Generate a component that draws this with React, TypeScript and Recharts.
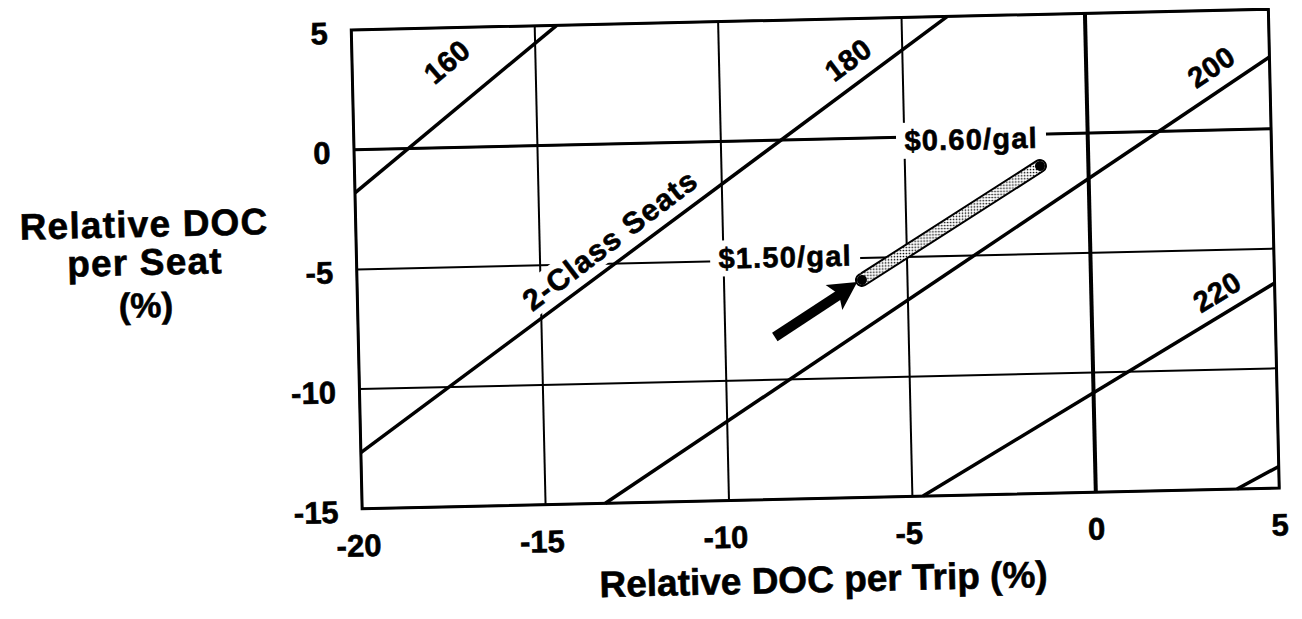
import {
  LineChart,
  Line,
  XAxis,
  YAxis,
  CartesianGrid,
  ReferenceLine,
  ReferenceDot,
  ReferenceArea,
} from "recharts";

const FONT = '"Liberation Sans", Arial, Helvetica, sans-serif';

const xTicks = [-20, -15, -10, -5, 0, 5];
const yTicks = [-15, -10, -5, 0, 5];

// constant seat-count lines (end points)
const seats160 = [
  { x: -20, y: -1.8 },
  { x: -14.4, y: 5 },
];
const seats180 = [
  { x: -20, y: -12.65 },
  { x: -3.75, y: 5 },
];
const seats200 = [
  { x: -13.37, y: -15 },
  { x: 5, y: 3.0 },
];
const seats220 = [
  { x: -4.71, y: -15 },
  { x: 5, y: -6.44 },
];
const seats240 = [
  { x: 3.85, y: -15 },
  { x: 5, y: -14.1 },
];

// fuel price sweep, $1.50/gal end first
const fuelPath = [
  { x: -6.24, y: -5.92 },
  { x: -1.32, y: -1.33 },
];

const arrowShaft = [
  { x: -8.65, y: -8.22 },
  { x: -6.8, y: -6.45 },
];
const arrowTip = { x: -6.37, y: -6.0 };

const seatLabels = [
  { text: "160", x: -17.41, y: 3.58, angle: 39 },
  { text: "180", x: -6.48, y: 3.28, angle: 35.5 },
  { text: "200", x: 3.41, y: 2.64, angle: 32.6 },
  { text: "220", x: 3.43, y: -6.76, angle: 30 },
];
const classLabel = { text: "2-Class Seats", x: -13.08, y: -4.01, angle: 36 };
const priceLabels = [
  { text: "$0.60/gal", x: -3.18, y: -0.15 },
  { text: "$1.50/gal", x: -8.32, y: -4.89 },
];

const W = 1286;
const H = 600;
const margin = { top: 11.5, right: 20.1, bottom: 49.5, left: 288.6 };

// the scan is a bit heavier than plain bold
const ink = { fill: "#000", stroke: "#000", strokeWidth: 0.6 };

const XTick = (props: any) => {
  const { x, y, payload } = props;
  const v = payload.value;
  return (
    <text
      x={x + (v < 0 ? -4 : 0)}
      y={y + 47.5}
      textAnchor="middle"
      fontFamily={FONT}
      fontWeight="bold"
      fontSize={31}
      {...ink}
    >
      {v}
    </text>
  );
};

const YTick = (props: any) => {
  const { x, y, payload } = props;
  return (
    <text
      x={x - 23.6}
      y={y + 13.5}
      textAnchor="end"
      fontFamily={FONT}
      fontWeight="bold"
      fontSize={31}
      {...ink}
    >
      {payload.value}
    </text>
  );
};

const YTitle = (props: any) => {
  const { x, y } = props.viewBox;
  const cx = x - 151.6;
  const common = {
    x: cx,
    textAnchor: "middle" as const,
    fontFamily: FONT,
    fontWeight: "bold",
    fontSize: 37,
    letterSpacing: 1.2,
    ...ink,
  };
  return (
    <g>
      <text {...common} y={y + 202.2}>
        Relative DOC
      </text>
      <text {...common} y={y + 240.3}>
        per Seat
      </text>
      <text {...common} y={y + 282.8} fontSize={35} letterSpacing={0}>
        (%)
      </text>
    </g>
  );
};

const XTitle = (props: any) => {
  const { x, y, width } = props.viewBox;
  return (
    <text
      x={x + width / 2 + 1}
      y={y + 93.7}
      textAnchor="middle"
      fontFamily={FONT}
      fontWeight="bold"
      fontSize={37}
      {...ink}
    >
      Relative DOC per Trip (%)
    </text>
  );
};

const SlantText = (props: any) => {
  const { cx, cy, text, angle, size, spacing, bg } = props;
  return (
    <g transform={`rotate(${-angle} ${cx} ${cy})`}>
      {bg && (
        <rect x={cx - 115} y={cy - 17} width={230} height={34} fill="#fff" />
      )}
      <text
        x={cx}
        y={cy}
        textAnchor="middle"
        dominantBaseline="central"
        fontFamily={FONT}
        fontWeight="bold"
        fontSize={size}
        letterSpacing={spacing}
        {...ink}
      >
        {text}
      </text>
    </g>
  );
};

const PriceLabel = (props: any) => {
  const { cx, cy, text } = props;
  return (
    <g>
      <rect x={cx - 75} y={cy - 18} width={150} height={36} fill="#fff" />
      <text
        x={cx}
        y={cy}
        textAnchor="middle"
        dominantBaseline="central"
        fontFamily={FONT}
        fontWeight="bold"
        fontSize={29}
        letterSpacing={1.2}
        {...ink}
      >
        {text}
      </text>
    </g>
  );
};

const ArrowHead = (props: any) => {
  const { cx, cy } = props;
  return (
    <polygon
      points="0,0 -28,-15 -22,0 -28,15"
      fill="#000"
      transform={`translate(${cx} ${cy}) rotate(-32.5)`}
    />
  );
};

const seatSeries = [seats160, seats180, seats200, seats220, seats240];

export default function App() {
  return (
    <div style={{ width: W, height: 603, overflow: "hidden" }}>
      <div
        style={{
          width: W,
          height: H,
          transform: "rotate(-1.3deg)",
          transformOrigin: "807px 251px",
        }}
      >
        <LineChart width={W} height={H} margin={margin}>
          <defs>
            <pattern
              id="dots"
              width="3"
              height="3"
              patternUnits="userSpaceOnUse"
            >
              <rect width="3" height="3" fill="#fff" />
              <circle cx="1.5" cy="1.5" r="0.85" fill="#000" />
            </pattern>
          </defs>
          <CartesianGrid stroke="#000" strokeWidth={2} />
          <XAxis
            type="number"
            dataKey="x"
            domain={[-20, 5]}
            ticks={xTicks}
            interval={0}
            axisLine={false}
            tickLine={false}
            tickSize={0}
            tickMargin={0}
            height={60}
            tick={<XTick />}
            label={(p: any) => <XTitle {...p} />}
          />
          <YAxis
            type="number"
            domain={[-15, 5]}
            ticks={yTicks}
            interval={0}
            axisLine={false}
            tickLine={false}
            tickSize={0}
            tickMargin={0}
            width={60}
            tick={<YTick />}
            label={(p: any) => <YTitle {...p} />}
          />
          <ReferenceLine x={0} stroke="#000" strokeWidth={4} />
          <ReferenceLine y={0} stroke="#000" strokeWidth={3} />
          <ReferenceArea
            x1={-20}
            x2={5}
            y1={-15}
            y2={5}
            fill="none"
            fillOpacity={0}
            stroke="#000"
            strokeWidth={3}
          />
          {priceLabels.map((l) => (
            <ReferenceDot
              key={l.text}
              x={l.x}
              y={l.y}
              r={0}
              shape={(p: any) => <PriceLabel {...p} text={l.text} />}
            />
          ))}
          <ReferenceDot
            x={classLabel.x}
            y={classLabel.y}
            r={0}
            shape={(p: any) => (
              <SlantText
                {...p}
                text={classLabel.text}
                angle={classLabel.angle}
                size={30}
                spacing={1.2}
                bg
              />
            )}
          />
          {seatLabels.map((l) => (
            <ReferenceDot
              key={l.text}
              x={l.x}
              y={l.y}
              r={0}
              shape={(p: any) => (
                <SlantText
                  {...p}
                  text={l.text}
                  angle={l.angle}
                  size={29}
                  spacing={0.5}
                />
              )}
            />
          ))}
          {seatSeries.map((d, i) => (
            <Line
              key={i}
              data={d}
              dataKey="y"
              type="linear"
              stroke="#000"
              strokeWidth={3.5}
              dot={false}
              activeDot={false}
              isAnimationActive={false}
            />
          ))}
          <Line
            data={fuelPath}
            dataKey="y"
            type="linear"
            stroke="#000"
            strokeWidth={14}
            strokeLinecap="round"
            dot={false}
            activeDot={false}
            isAnimationActive={false}
          />
          <Line
            data={fuelPath}
            dataKey="y"
            type="linear"
            stroke="url(#dots)"
            strokeWidth={10}
            strokeLinecap="round"
            dot={{ r: 5, fill: "#000", stroke: "none" }}
            activeDot={false}
            isAnimationActive={false}
          />
          <Line
            data={arrowShaft}
            dataKey="y"
            type="linear"
            stroke="#000"
            strokeWidth={10}
            dot={false}
            activeDot={false}
            isAnimationActive={false}
          />
          <ReferenceDot
            x={arrowTip.x}
            y={arrowTip.y}
            r={0}
            shape={(p: any) => <ArrowHead {...p} />}
          />
        </LineChart>
      </div>
    </div>
  );
}
